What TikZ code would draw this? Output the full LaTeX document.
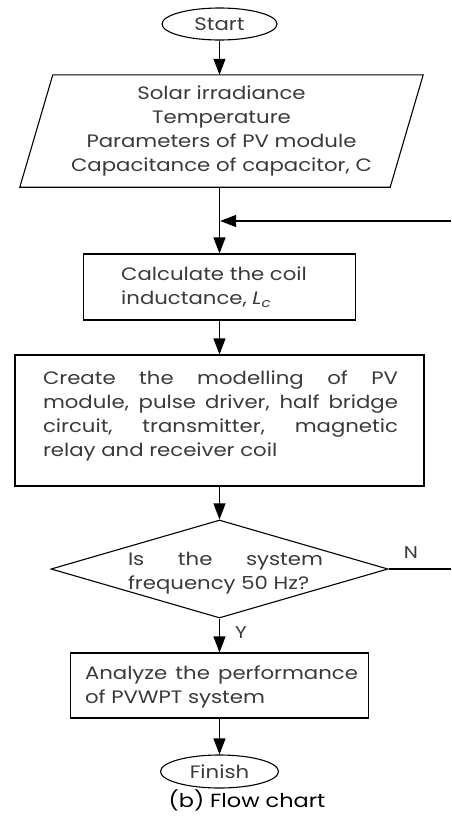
\documentclass[tikz,border=0pt]{standalone}
\usepackage{fontspec}
\setmainfont{Poppins}[FakeStretch=1.18]
\usetikzlibrary{shapes.geometric,arrows.meta,calc}
\definecolor{txt}{HTML}{3A3A3A}
\begin{document}
\begin{tikzpicture}[x=1pt,y=-1pt,
  every node/.style={font=\fontsize{18}{24}\selectfont, text=txt},
  ln/.style={line width=1.1pt, draw=black},
  arr/.style={ln, -{Triangle[length=16pt,width=12pt]}},
  term/.style={ellipse, draw=black, line width=1.1pt, inner sep=0pt},
  boxshape/.style={rectangle, draw=black, line width=1.1pt, inner sep=0pt},
  plain/.style={inner sep=0pt},
  lbl/.style={inner sep=0pt, font=\fontsize{17}{20}\selectfont},
]
\useasboundingbox (0,0) rectangle (451,817);
% Start
\node[term, minimum width=115pt, minimum height=32pt] (start) at (219.5,24) {Start};
% Input parallelogram
\node[plain, minimum width=370pt, minimum height=112pt, align=center] (input) at (221.5,131)
  {Solar irradiance\\Temperature\\Parameters of PV module\\Capacitance of capacitor, C};
\draw[ln] ($(input.north west)+(16.5,0)$) -- ($(input.north east)+(16.5,0)$)
  -- ($(input.south east)+(-16.5,0)$) -- ($(input.south west)+(-16.5,0)$) -- cycle;
% Calculate box
\node[boxshape, minimum width=272pt, minimum height=66pt] (calc) at (219.5,287) {};
\node[plain, anchor=west, align=left] (calctext) at (121,287)
  {Calculate the coil\\inductance, \textit{L}\textsubscript{\textit{c}}};
% Modelling box
\node[boxshape, minimum width=409pt, minimum height=131pt] (model) at (219.5,420.5) {};
\node[plain, text width=355pt, align=justify] (modeltext) at (220.5,416)
  {\hyphenpenalty=10000 Create the modelling of PV\linebreak module, pulse driver, half bridge\linebreak circuit, transmitter, magnetic\linebreak relay and receiver coil};
% Decision
\node[diamond, draw=black, line width=1.1pt, inner sep=0pt, minimum width=337pt, minimum height=98pt] (dec) at (219.5,569) {};
\node[plain, text width=195pt, align=justify] (dectext) at (225.5,573)
  {\hyphenpenalty=10000 Is the system\linebreak frequency 50 Hz?};
% Analyze box
\node[boxshape, minimum width=298pt, minimum height=65pt] (ana) at (219.5,685.5) {};
\node[plain, text width=273pt, align=justify] (anatext) at (221.5,687)
  {\hyphenpenalty=10000 Analyze the performance\linebreak of PVWPT system};
% Finish
\node[term, minimum width=118pt, minimum height=33pt] (finish) at (219.5,771.5) {Finish};
% Caption
\node[plain, text=black, font=\fontsize{19}{22}\selectfont] (cap) at (247,800) {(b) Flow chart};
% Labels
\node[lbl] (nlab) at (411,553) {N};
\node[lbl] (ylab) at (241,633) {Y};
% Connectors
\coordinate (fbR) at (451,221);
\coordinate (fbJ) at (219.5,221);
\coordinate (nR) at (451,569);
\draw[arr] (start.south) -- (start.south |- input.north);
\draw[ln] (start.south |- input.south) -- (fbJ);
\draw[arr] (fbJ) -- (calc.north);
\draw[arr] (fbR) -- ([xshift=0.6pt]fbJ);
\draw[arr] (calc.south) -- (calc.south |- model.north);
\draw[arr] (model.south) -- (dec.north);
\draw[ln] (dec.east) -- (nR);
\draw[arr] (dec.south) -- (ana.north);
\draw[arr] (ana.south) -- (finish.north);
\end{tikzpicture}
\end{document}
